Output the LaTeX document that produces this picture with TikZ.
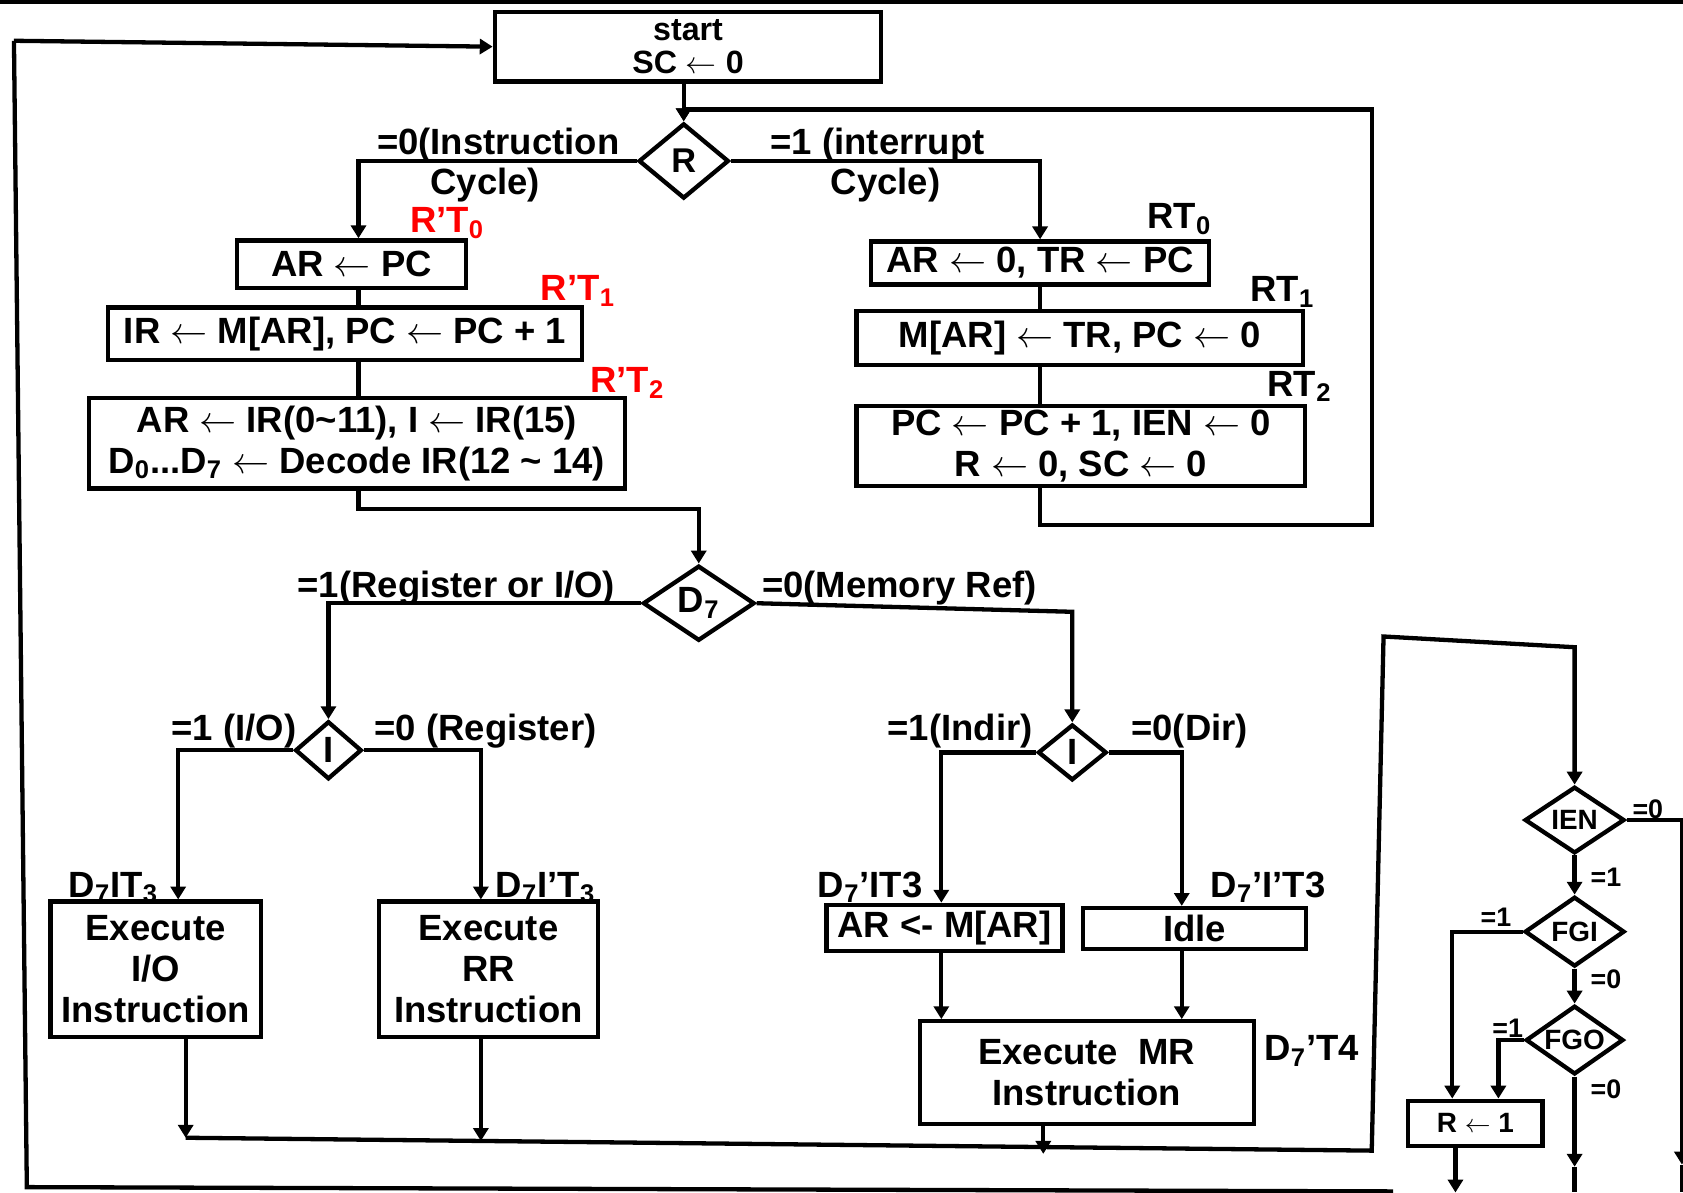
\documentclass[tikz,border=0pt]{standalone}
\usepackage{fontspec}
\setmainfont{Liberation Sans}
\usetikzlibrary{arrows.meta,shapes.geometric}
\newcommand{\getsarrow}{\ensuremath{\leftarrow}}
\newcommand{\lowsub}[1]{\textsubscript{#1}}
\begin{document}
\begin{tikzpicture}[x=0.5pt,y=-0.5pt,line width=2pt,
  font=\bfseries\fontsize{17}{19}\selectfont,
  box/.style={draw,rectangle,align=center,inner sep=0pt},
  cond/.style={draw,diamond,aspect=1.5,inner sep=0pt},
  lbl/.style={inner sep=0pt},
  small/.style={inner sep=0pt,font=\bfseries\fontsize{12.5}{13}\selectfont},
  arr/.style={-{Triangle[length=6pt,width=7pt]}}]
\definecolor{color0}{HTML}{FF0000}
\useasboundingbox (0,0) rectangle (1568,1111);
\draw (0,2) -- (1568,2);
\coordinate (tl) at (13,38);
\coordinate (bl) at (25,1106);
\coordinate (br) at (1298,1110);
\draw (tl) -- (bl) -- (br);
% fetch and decode
\node[box,minimum width=180pt,minimum height=32.5pt,font=\bfseries\fontsize{15}{15.5}\selectfont] (start) at (641,43.5) {start\\SC \getsarrow{} 0};
\draw[arr] (tl) -- (start.west);
\node[cond,minimum width=42pt,minimum height=35pt,font=\bfseries\fontsize{16}{18}\selectfont] (rd) at (637,150) {R};
\draw[arr] (rd.north |- start.south) -- (rd.north);
\node[lbl,anchor=base east] (c0a) at (579,144) {=0(Instruction};
\node[lbl,anchor=base west] (c0b) at (399,181) {Cycle)};
\node[lbl,anchor=base west] (c1a) at (716,144) {=1 (interrupt};
\node[lbl,anchor=base west] (c1b) at (772,181) {Cycle)};
\coordinate (colL) at (334,0);
\node[box,minimum width=106.5pt,minimum height=22pt] (arpc) at (327.5,246) {AR \getsarrow{} PC};
\node[box,minimum width=221pt,minimum height=24.5pt] (irm) at (321.5,311) {IR \getsarrow{} M[AR], PC \getsarrow{} PC + 1};
\node[box,minimum width=249.5pt,minimum height=42pt] (dec) at (332.5,413) {AR \getsarrow{} IR(0\textasciitilde11), I \getsarrow{} IR(15)\\D\lowsub{0}...D\lowsub{7} \getsarrow{} Decode IR(12 \textasciitilde{} 14)};
\node[lbl,anchor=base west,text=color0] (t0) at (380,217) {R’T\lowsub{0}};
\node[lbl,anchor=base west,text=color0] (t1) at (502,280) {R’T\lowsub{1}};
\node[lbl,anchor=base west,text=color0] (t2) at (548,366) {R’T\lowsub{2}};
\draw[arr] (rd.west) -| (arpc.north -| colL);
\draw (arpc.south -| colL) -- (irm.north -| colL);
\draw (irm.south -| colL) -- (dec.north -| colL);
% interrupt cycle
\node[box,minimum width=157.5pt,minimum height=20pt] (ar0) at (969,245) {AR \getsarrow{} 0, TR \getsarrow{} PC};
\node[box,minimum width=208pt,minimum height=25pt] (mar) at (1006,315) {M[AR] \getsarrow{} TR, PC \getsarrow{} 0};
\node[box,minimum width=209pt,minimum height=37.5pt] (pcinc) at (1007,415.5) {PC \getsarrow{} PC + 1, IEN \getsarrow{} 0\\R \getsarrow{} 0, SC \getsarrow{} 0};
\node[lbl,anchor=base west] (s0) at (1067,213) {RT\lowsub{0}};
\node[lbl,anchor=base west] (s1) at (1163,281) {RT\lowsub{1}};
\node[lbl,anchor=base west] (s2) at (1179,369) {RT\lowsub{2}};
\draw[arr] (rd.east) -| (ar0.north);
\draw (ar0.south) -- (ar0.south |- mar.north);
\draw (ar0.south |- mar.south) -- (ar0.south |- pcinc.north);
\coordinate (lp1) at (1278,489);
\coordinate (lp2) at (1278,102);
\draw[arr] (ar0.south |- pcinc.south) -- (ar0.south |- lp1) -- (lp1) -- (lp2) -- (rd.north |- lp2) -- (rd.north);
% execute
\node[cond,minimum width=52pt,minimum height=35pt] (d7) at (651,562) {D\lowsub{7}};
\draw[arr] (dec.south -| colL) -- ++(0,17) -| (d7.north);
\node[lbl,anchor=base east] (d7a) at (575,557) {=1(Register or I/O)};
\node[lbl,anchor=base west] (d7b) at (708,557) {=0(Memory Ref)};
\node[cond,minimum width=31pt,minimum height=27pt] (i1) at (306,699) {I};
\coordinate (m1) at (999,570);
\node[cond,minimum width=32pt,minimum height=26pt] (i2) at (999,701) {I};
\draw[arr] (d7.west) -| (i1.north);
\draw[arr] (d7.east) -- (m1) -- (i2.north);
\node[lbl,anchor=base east] (i1a) at (278,690) {=1 (I/O)};
\node[lbl,anchor=base west] (i1b) at (347,690) {=0 (Register)};
\node[lbl,anchor=base east] (i2a) at (964,690) {=1(Indir)};
\node[lbl,anchor=base west] (i2b) at (1052,690) {=0(Dir)};
\node[box,minimum width=98pt,minimum height=63pt] (exio) at (145,903) {Execute\\I/O\\Instruction};
\node[box,minimum width=102pt,minimum height=63pt] (exrr) at (455,903) {Execute\\RR\\Instruction};
\node[box,minimum width=110pt,minimum height=21.5pt] (armar) at (880,864.5) {AR <- M[AR]};
\node[box,minimum width=104pt,minimum height=19pt] (idle) at (1113,865) {Idle};
\node[box,minimum width=155.5pt,minimum height=48pt] (exmr) at (1012.5,999.5) {Execute\ \ MR\\Instruction};
\node[lbl,anchor=base west] (k1) at (62,836) {D\lowsub{7}IT\lowsub{3}};
\node[lbl,anchor=base west] (k2) at (460,836) {D\lowsub{7}I’T\lowsub{3}};
\node[lbl,anchor=base west] (k3) at (760,836) {D\lowsub{7}’IT3};
\node[lbl,anchor=base west] (k4) at (1126,836) {D\lowsub{7}’I’T3};
\node[lbl,anchor=base west] (k5) at (1176,988) {D\lowsub{7}’T4};
\draw[arr] (i1.west) -| ([xshift=10.5pt]exio.north);
\draw[arr] (i1.east) -| ([xshift=-3.5pt]exrr.north);
\draw[arr] (i2.west) -| ([xshift=-1.5pt]armar.north);
\draw[arr] (i2.east) -| ([xshift=-6pt]idle.north);
\coordinate (armb) at ([xshift=-1.5pt]armar.south);
\coordinate (idlb) at ([xshift=-6pt]idle.south);
\draw[arr] (armb) -- (armb |- exmr.north);
\draw[arr] (idlb) -- (idlb |- exmr.north);
% back to interrupt check
\coordinate (j1) at (173,1060);
\coordinate (j2) at (448,1063);
\coordinate (j3) at (972,1075);
\coordinate (j4) at (1278,1072);
\coordinate (j5) at (1289,593);
\coordinate (j6) at (1467,603);
\draw[arr] (exio.south -| j1) -- (j1);
\draw[arr] (exrr.south -| j2) -- (j2);
\draw[arr] (exmr.south -| j3) -- (j3);
\node[cond,minimum width=46.5pt,minimum height=31pt,font=\bfseries\fontsize{13}{14}\selectfont] (ien) at (1467,764) {IEN};
\node[cond,minimum width=46.5pt,minimum height=32.5pt,font=\bfseries\fontsize{13}{14}\selectfont] (fgi) at (1467,868) {FGI};
\node[cond,minimum width=45.5pt,minimum height=32pt,font=\bfseries\fontsize{13}{14}\selectfont] (fgo) at (1467,969) {FGO};
\node[box,minimum width=62.5pt,minimum height=21pt,font=\bfseries\fontsize{13}{14}\selectfont] (rset) at (1374.5,1046.5) {R \getsarrow{} 1};
\draw[arr] (j1) -- (j4) -- (j5) -- (j6) -- (ien.north);
\draw[arr] (ien.south) -- (fgi.north);
\draw[arr] (fgi.south) -- (fgo.north);
\coordinate (e1) at (1567,764);
\coordinate (e2) at (1567,1085);
\coordinate (e3) at (1567,1111);
\draw[arr] (ien.east) -- (e1) -- (e2);
\draw (e2) -- (e3);
\coordinate (fa) at ([xshift=-10.75pt]rset.north);
\coordinate (fb) at ([xshift=10.75pt]rset.north);
\draw[arr] (fgi.west) -| (fa);
\draw[arr] (fgo.west) -| (fb);
\coordinate (g1) at (1467,1087);
\coordinate (g2) at (1467,1111);
\draw[arr] (fgo.south) -- (g1);
\draw (g1) -- (g2);
\coordinate (r1) at (1356,1111);
\draw[arr] (rset.south -| r1) -- (r1);
\node[small,anchor=base west] (n1) at (1519,763) {=0};
\node[small,anchor=base west] (n2) at (1480,826) {=1};
\node[small,anchor=base east] (n3) at (1410,863) {=1};
\node[small,anchor=base west] (n4) at (1480,921) {=0};
\node[small,anchor=base east] (n5) at (1421,967) {=1};
\node[small,anchor=base west] (n6) at (1480,1023) {=0};
\end{tikzpicture}
\end{document}
